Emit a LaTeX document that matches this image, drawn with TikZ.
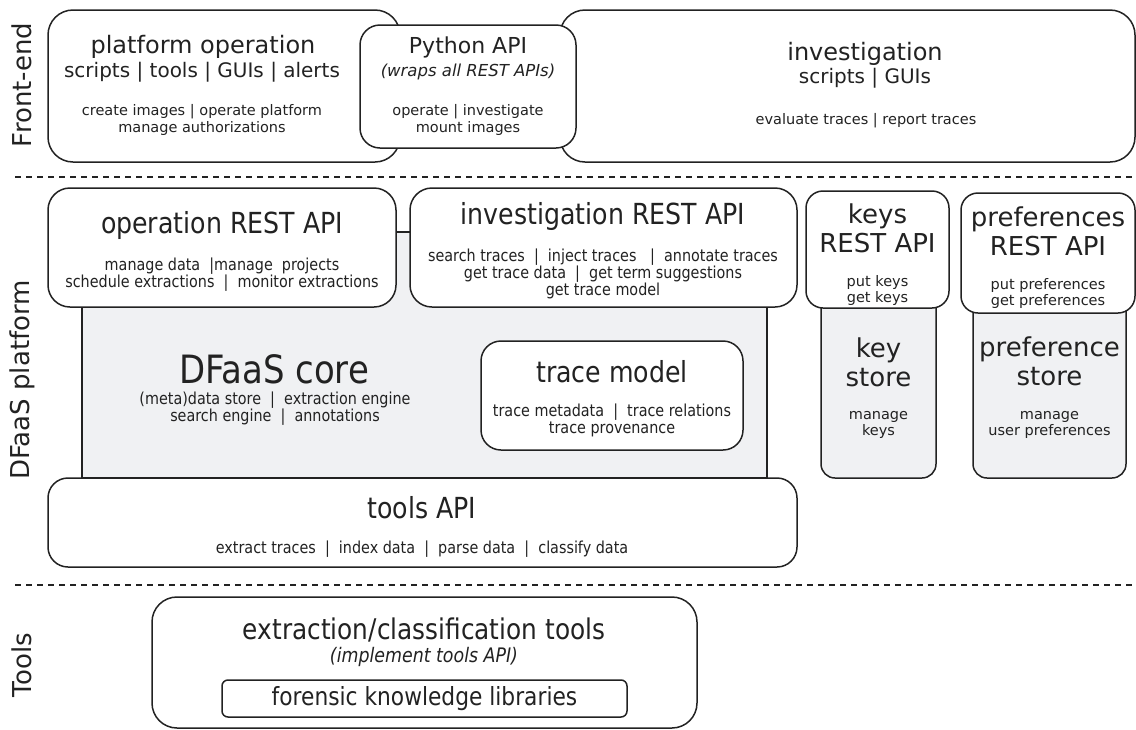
\documentclass[tikz,border=0pt]{standalone}
\usepackage{fontspec}
\setmainfont{DejaVu Sans}
\newfontfamily\condfont[FakeStretch=0.87]{DejaVu Sans}
\definecolor{linecol}{HTML}{222222}
\definecolor{corefill}{HTML}{F0F1F3}

\tikzset{
  box/.style={draw=linecol, line width=1.5pt, fill=white, rounded corners=22pt, inner sep=0pt},
  grey/.style={box, fill=corefill},
  layerline/.style={draw=linecol, line width=1.3pt, dash pattern=on 6pt off 5pt},
  txt/.style={inner sep=1pt, text=linecol},
  layerlabel/.style={txt, rotate=90, font=\fontsize{26}{30}\selectfont},
  feTitle/.style={txt, font=\fontsize{24}{28}\selectfont},
  feSub/.style={txt, font=\fontsize{20}{24}\selectfont},
  feSmall/.style={txt, align=center, font=\fontsize{14.5}{16.5}\selectfont},
  pfTitle/.style={txt, font=\condfont\fontsize{29}{32}\selectfont},
  pfSmall/.style={txt, align=center, font=\condfont\fontsize{16.5}{17}\selectfont},
  stTitle/.style={txt, align=center, font=\fontsize{26}{29}\selectfont},
  stSmall/.style={txt, align=center, font=\fontsize{14.5}{16}\selectfont},
}

\begin{document}
\begin{tikzpicture}[x=1pt, y=-1pt]
\useasboundingbox (0,0) rectangle (1136,729);

% layer labels and separators
\node[layerlabel] (lbl-front) at (22,85) {Front-end};
\node[layerlabel] (lbl-platform) at (22,380) {DFaaS platform};
\node[layerlabel] (lbl-tools) at (22,665) {Tools};
\coordinate (sep1-w) at (15,177);
\coordinate (sep1-e) at (1136,177);
\coordinate (sep2-w) at (15,585);
\coordinate (sep2-e) at (1136,585);
\draw[layerline] (sep1-w) -- (sep1-e);
\draw[layerline] (sep2-w) -- (sep2-e);

% front-end
\node[box, rounded corners=25pt, minimum width=352pt, minimum height=152pt] (platop) at (224,86) {};
\node[box, rounded corners=25pt, minimum width=575pt, minimum height=152pt] (invest) at (847.5,86) {};
\node[box, rounded corners=20pt, minimum width=216pt, minimum height=123pt] (python) at (468,86.5) {};
\node[feTitle] (platop-t) at (203,47) {platform operation};
\node[feSub] (platop-s) at (202,72) {scripts | tools | GUIs | alerts};
\node[feSmall] (platop-o) at (202,120) {create images | operate platform\\manage authorizations};
\node[feTitle, font=\fontsize{22}{26}\selectfont] (python-t) at (468,47) {Python API};
\node[feSub, font=\fontsize{16.5}{20}\selectfont\itshape] (python-s) at (468,72) {(wraps all REST APIs)};
\node[feSmall] (python-o) at (468,120) {operate | investigate\\mount images};
\node[feTitle] (invest-t) at (865,54) {investigation};
\node[feSub] (invest-s) at (865,78) {scripts | GUIs};
\node[feSmall] (invest-o) at (866,121) {evaluate traces | report traces};

% platform
\node[grey, rounded corners=0pt, minimum width=685pt, minimum height=246pt] (core) at (424.5,355) {};
\node[box, minimum width=348pt, minimum height=119pt] (oprest) at (222,247.5) {};
\node[box, minimum width=387pt, minimum height=119pt] (invrest) at (603.5,247.5) {};
\node[box, rounded corners=20pt, minimum width=262pt, minimum height=109pt] (trace) at (612,395.5) {};
\node[box, rounded corners=20pt, minimum width=749pt, minimum height=89pt] (toolsapi) at (422.5,522.5) {};
\node[pfTitle] (oprest-t) at (222,225) {operation REST API};
\node[pfSmall] (oprest-o) at (222,274.5) {manage data ~|manage ~projects\\schedule extractions ~|~ monitor extractions};
\node[pfTitle] (invrest-t) at (603,216) {investigation REST API};
\node[pfSmall] (invrest-o) at (603,274) {search traces ~|~ inject traces ~~|~ annotate traces\\get trace data ~|~ get term suggestions\\get trace model};
\node[pfTitle, font=\condfont\fontsize{39}{42}\selectfont] (core-t) at (274,369) {DFaaS core};
\node[pfSmall] (core-o) at (275,408.5) {(meta)data store ~|~ extraction engine\\search engine ~|~ annotations};
\node[pfTitle] (trace-t) at (612,372) {trace model};
\node[pfSmall] (trace-o) at (612,420.5) {trace metadata ~|~ trace relations\\trace provenance};
\node[pfTitle] (toolsapi-t) at (422,508) {tools API};
\node[pfSmall] (toolsapi-o) at (422,549) {extract traces ~|~ index data ~|~ parse data ~|~ classify data};

% keys and preferences
\node[grey, rounded corners=14pt, minimum width=115pt, minimum height=193pt] (keystore) at (878.5,381.5) {};
\node[grey, rounded corners=14pt, minimum width=153pt, minimum height=188pt] (prefstore) at (1049.5,384) {};
\node[box, rounded corners=17pt, minimum width=143pt, minimum height=117pt] (keysrest) at (877.5,249.5) {};
\node[box, rounded corners=17pt, minimum width=174pt, minimum height=120pt] (prefrest) at (1048,253) {};
\node[stTitle] (keysrest-t) at (877.5,228) {keys\\REST API};
\node[stSmall] (keysrest-o) at (877.5,290) {put keys\\get keys};
\node[stTitle] (keystore-t) at (878.5,362) {key\\store};
\node[stSmall] (keystore-o) at (878.5,425) {manage\\keys};
\node[stTitle] (prefrest-t) at (1048,231) {preferences\\REST API};
\node[stSmall] (prefrest-o) at (1048,293.5) {put preferences\\get preferences};
\node[stTitle] (prefstore-t) at (1049.5,361) {preference\\store};
\node[stSmall] (prefstore-o) at (1049.5,425) {manage\\user preferences};

% tools
\node[box, rounded corners=25pt, minimum width=545pt, minimum height=131pt] (extract) at (424.5,662.5) {};
\node[box, rounded corners=6pt, minimum width=405pt, minimum height=37pt] (forensic) at (424.5,698.5) {};
\node[pfTitle, font=\condfont\fontsize{28.5}{32}\selectfont] (extract-t) at (424,630) {extraction/classification tools};
\node[pfSmall, font=\condfont\fontsize{20}{22}\selectfont\itshape] (extract-s) at (424,657) {(implement tools API)};
\node[pfTitle, font=\condfont\fontsize{25}{28}\selectfont] (forensic-t) at (424.5,699) {forensic knowledge libraries};
\end{tikzpicture}
\end{document}
